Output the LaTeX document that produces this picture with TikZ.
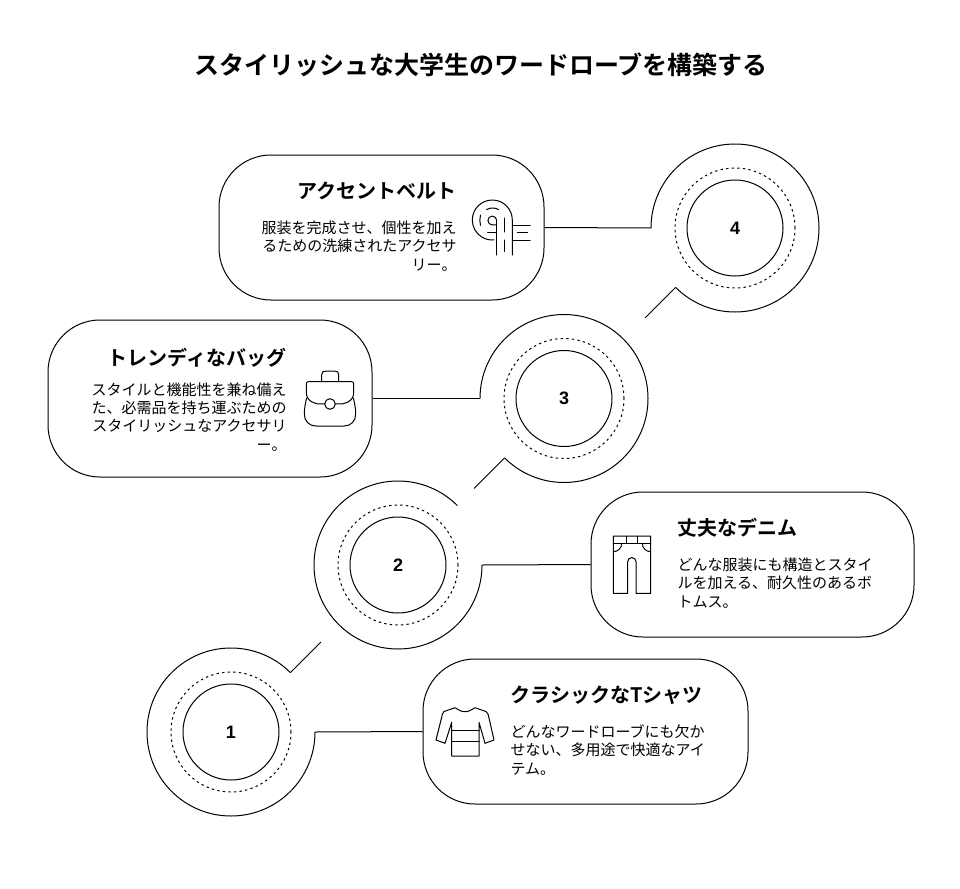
\documentclass[tikz,border=0pt]{standalone}
\usepackage{fontspec}
\setmainfont{Noto Sans CJK JP}[BoldFont={Noto Sans CJK JP Bold}]
\newfontfamily\digitfont{Liberation Sans}
\tikzset{
  every path/.append style={line width=1pt,line join=round},
  cardbox/.style={draw,rounded corners=52pt,inner sep=0pt,minimum width=#1},
  core/.style={circle,draw,minimum size=96pt,inner sep=0pt,font=\digitfont\bfseries\fontsize{18}{20}\selectfont},
  halo/.style={circle,draw,dash pattern=on 2.4pt off 3.2pt,minimum size=120pt,inner sep=0pt},
  heading/.style={font=\bfseries\fontsize{20}{24}\selectfont,inner sep=0pt},
  bodytext/.style={font=\fontsize{15}{18.2}\selectfont,inner sep=0pt},
  titletext/.style={font=\bfseries\fontsize{25}{30}\selectfont,inner sep=0pt},
  icon/.style={line width=0.9pt,line cap=round}
}
\begin{document}
\begin{tikzpicture}[x=1pt,y=1pt]
\useasboundingbox (0,0) rectangle (960,-888);
\node[titletext] (title) at (481,-65) {スタイリッシュな大学生のワードローブを構築する};

% cards
\node[cardbox=325pt,minimum height=145pt] (card4) at (381.5,-227.5) {};
\node[cardbox=324pt,minimum height=157pt] (card3) at (210,-398.5) {};
\node[cardbox=323pt,minimum height=145pt] (card2) at (752.5,-564.5) {};
\node[cardbox=325pt,minimum height=145pt] (card1) at (585.5,-731.5) {};

% circles
\node[core] (n4) at (735,-228) {4};
\node[halo] (h4) at (735,-228) {};
\node[core] (n3) at (564,-398.5) {3};
\node[halo] (h3) at (564,-398.5) {};
\node[core] (n2) at (398,-565) {2};
\node[halo] (h2) at (398,-565) {};
\node[core] (n1) at (231,-732) {1};
\node[halo] (h1) at (231,-732) {};

% outer open rings
\coordinate (s4) at (651,-228);
\coordinate (t4) at (645,-318);
\draw (s4) arc[start angle=180,end angle=-135,radius=84pt] coordinate (k4) -- (t4);
\coordinate (s3) at (480,-398.5);
\coordinate (t3) at (474,-488.5);
\draw (s3) arc[start angle=180,end angle=-135,radius=84pt] coordinate (k3) -- (t3);
\coordinate (s2) at (482,-565);
\draw (s2) arc[start angle=0,end angle=-315,radius=84pt] coordinate (k2);
\coordinate (s1) at (315,-732);
\coordinate (t1) at (321,-642);
\draw (s1) arc[start angle=0,end angle=-315,radius=84pt] coordinate (k1) -- (t1);

% connectors
\draw (card4.east) -- (s4);
\draw (card3.east) -- (s3);
\draw (card2.west) -- (s2);
\draw (card1.west) -- (s1);

% texts
\node[heading,anchor=east] (h4t) at (457,-191) {アクセントベルト};
\node[bodytext,align=right,anchor=east] (b4t) at (457,-246) {服装を完成させ、個性を加え\\るための洗練されたアクセサ\\リー。};
\node[heading,anchor=east] (h3t) at (287,-358) {トレンディなバッグ};
\node[bodytext,align=right,anchor=east] (b3t) at (287,-417) {スタイルと機能性を兼ね備え\\た、必需品を持ち運ぶための\\スタイリッシュなアクセサリ\\ー。};
\node[heading,anchor=west] (h2t) at (677,-528) {丈夫なデニム};
\node[bodytext,align=left,anchor=west] (b2t) at (677,-583) {どんな服装にも構造とスタイ\\ルを加える、耐久性のあるボ\\トムス。};
\node[heading,anchor=west] (h1t) at (510,-695) {クラシックなTシャツ};
\node[bodytext,align=left,anchor=west] (b1t) at (510,-750) {どんなワードローブにも欠か\\せない、多用途で快適なアイ\\テム。};

% belt icon
\begin{scope}[icon]
\draw (512.3,-255) -- (512.3,-220) arc[start angle=0,end angle=180,radius=20pt] arc[start angle=180,end angle=275,radius=20pt];
\draw (496.7,-255) -- (496.7,-220);
\draw (496.7,-220.5) arc[start angle=0,end angle=270,radius=4.4pt] -- (496.7,-224.9);
\draw (487.7,-232.5) -- (496.7,-232.5);
\draw (504.6,-218) -- (504.6,-232);
\draw (504.6,-240) -- (504.6,-251.5);
\draw (512.5,-225.5) -- (530,-225.5);
\draw (512.5,-240) -- (530,-240);
\draw (517.3,-232.7) -- (527.7,-232.7);
\draw (486.6,-209.6) arc[start angle=120,end angle=60,radius=12pt];
\draw (480.5,-215) arc[start angle=165,end angle=195,radius=20pt];
\end{scope}

% bag icon
\begin{scope}[icon]
\draw (321.7,-381.7) -- (321.7,-375) .. controls (321.7,-372) and (323,-371) .. (326,-371) -- (334.5,-371) .. controls (337.5,-371) and (338.7,-372) .. (338.7,-375) -- (338.7,-381.7);
\draw (324.7,-404) .. controls (318,-404) and (315,-404) .. (312,-402) .. controls (308,-399.5) and (306.3,-397) .. (306.3,-392) -- (306.3,-384) .. controls (306.3,-382.5) and (307,-381.7) .. (308.5,-381.7) -- (351.5,-381.7) .. controls (353,-381.7) and (353.7,-382.5) .. (353.7,-384) -- (353.7,-392) .. controls (353.7,-397) and (352,-399.5) .. (348,-402) .. controls (345,-404) and (342,-404) .. (335.3,-404);
\draw (330,-404) circle[radius=5.3pt];
\draw (306.6,-398) .. controls (305.5,-403) and (304.3,-408) .. (304.3,-414) .. controls (304.3,-421) and (309,-426) .. (316,-426) -- (344,-426) .. controls (351,-426) and (355.7,-421) .. (355.7,-414) .. controls (355.7,-408) and (354.5,-403) .. (353.4,-398);
\end{scope}

% trousers icon
\begin{scope}[icon]
\draw (613.3,-536) -- (650.7,-536) -- (650.7,-593.3) -- (636,-593.3) -- (636,-561.7) arc[start angle=0,end angle=180,radius=4.15pt] -- (627.7,-593.3) -- (613.3,-593.3) -- cycle;
\draw (613.3,-543.3) -- (650.7,-543.3);
\draw (626,-536) -- (626,-543.3);
\draw (637.7,-536) -- (637.7,-543.3);
\draw (621.7,-543.3) .. controls (621.7,-548) and (618,-551.7) .. (613.3,-551.7);
\draw (642.3,-543.3) .. controls (642.3,-548) and (646,-551.7) .. (650.7,-551.7);
\end{scope}

% shirt icon
\begin{scope}[icon]
\draw (455,-707.7) .. controls (459,-710) and (461,-711.7) .. (465,-711.7) .. controls (469,-711.7) and (471,-710) .. (475,-707.7) -- (486,-711.5) .. controls (488,-713) and (488.5,-715) .. (489,-718) -- (494,-740) -- (485,-743.3) -- (479,-722.3) -- (479,-756) -- (451.7,-756) -- (451.7,-722.3) -- (445,-743.3) -- (436,-740) -- (441.5,-718) .. controls (442,-715) and (442.5,-713) .. (444,-711.5) -- cycle;
\draw (451.7,-730.7) -- (479,-730.7);
\draw (451.7,-741.7) -- (479,-741.7);
\end{scope}
\end{tikzpicture}
\end{document}
